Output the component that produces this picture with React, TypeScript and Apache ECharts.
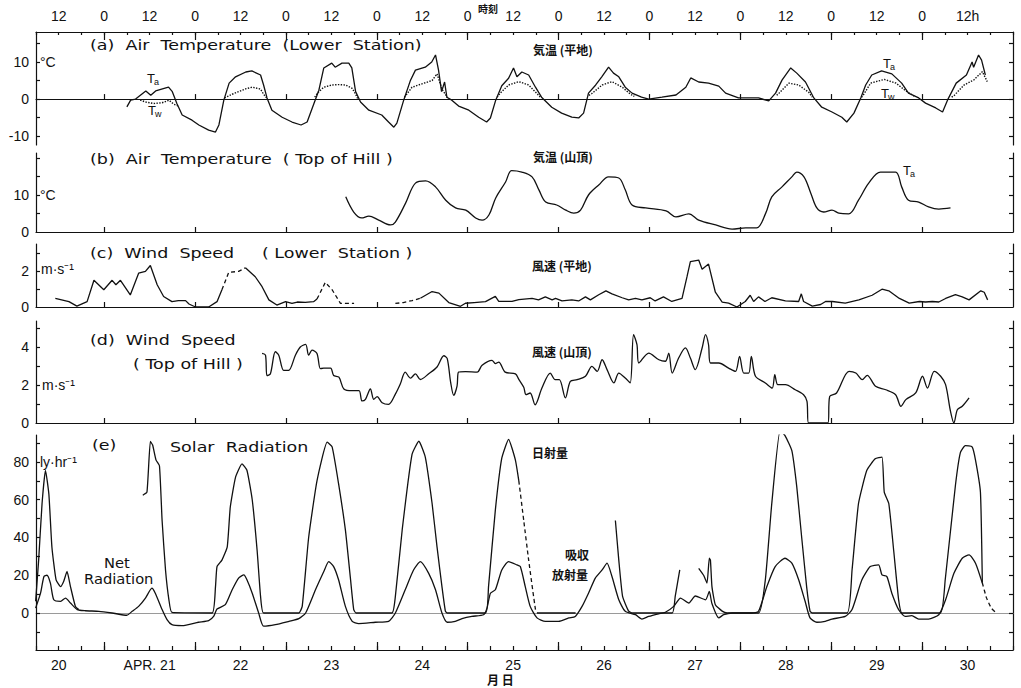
import React, { useEffect, useRef } from "react";
import * as echarts from "echarts";

type P = [number, number] | null;

// ---------- axis definitions (hours since Apr 20, 00h) ----------
const X_MIN = 6;
const X_MAX = 264;
const topLabelHours = [12, 24, 36, 48, 60, 72, 84, 96, 108, 120, 132, 144, 156, 168, 180, 192, 204, 216, 228, 240, 252];
const dateHours = [12, 36, 60, 84, 108, 132, 156, 180, 204, 228, 252];
const dateLabels = ["20", "APR. 21", "22", "23", "24", "25", "26", "27", "28", "29", "30"];
const midnightHours = [24, 48, 72, 96, 120, 144, 168, 192, 216, 240];
const sixHourTicks: number[] = [];
for (let h = 6; h <= 264; h += 6) sixHourTicks.push(h);

// ---------- (a) Air temperature, lower station (°C) ----------
const taLower: P[] = [
  [30, -2.1], [31, -0.3], [32.3, 0], [35, 2.2], [36.3, 1], [37.6, 2.2], [40.3, 3], [41, 3.2], [42, 2], [43.2, -1.2],
  [44.6, -4.3], [47.2, -5.7], [49, -7], [51.6, -8.4], [53.4, -8.9], [54.3, -7], [55.6, -0.3], [57, 4.3], [58.7, 6],
  [61.4, 7.3], [63, 7.6], [65.3, 6.5], [66.1, 3.8], [67, 0.3], [68.3, -3], [71, -4.9], [73.6, -6.2], [76, -7],
  [77.6, -6.2], [79.4, -1.2], [80.7, 2.4], [82, 8.4], [84.1, 9.7], [85, 8.6], [86.8, 9.7], [88.6, 9.7], [89.4, 8.4],
  [90.4, 2], [91.7, -0.8], [93.9, -3], [97.3, -4.3], [99.1, -6.2], [100.5, -7.6], [101.3, -6.5], [103.1, -0.3],
  [104.9, 5.1], [106.2, 7.8], [108.8, 8.6], [110.5, 10], [111.5, 11.9], [112.3, 7.8], [113.1, 2], [113.9, 4.6],
  [114.5, 0.5], [115.8, -0.3], [117.6, -1.9], [120.3, -3], [122.9, -4.9], [125, -6.2], [126, -5.1], [127.4, -0.3],
  [129, 3.6], [130.8, 5.6], [132.1, 8.4], [133, 6], [134.3, 7.3], [136.1, 6.5], [137.9, 3.2], [139.5, 0.5],
  [142.2, -2.2], [144.8, -3.8], [147.5, -4.9], [149.3, -5.1], [150.6, -3.8], [151.9, 1.6], [153.8, 3.8], [155.4, 6],
  [157.2, 8.6], [158.5, 7], [159.9, 6], [161.6, 3.2], [163.4, 1.6], [165.9, 0.5], [167.8, 0], [171.3, 0.5],
  [175, 1.1], [177.6, 3.2], [178.9, 5.7], [181, 4.6], [183.6, 4.3], [186.3, 3.5], [188.1, 1.6], [191.5, 0.3],
  [195, 0.3], [196.8, 0.3], [199.5, -0.5], [201.3, 1.6], [203, 5.1], [205.3, 8.4], [206.9, 7], [209.2, 4.6],
  [211.4, 0.3], [213.5, -2.2], [216.2, -3.5], [218.8, -4.9], [220.1, -6.2], [222, -3.8], [223.8, 0.3], [225.1, 3.8],
  [226.7, 6.5], [229.3, 7.6], [232, 6.8], [234.6, 4.3], [236.4, 1.6], [239.1, 0.3], [240.9, -1.1], [243.6, -2.4],
  [245.4, -3.5], [246.7, -0.3], [249, 4.3], [251.7, 6.5], [253.2, 10], [253.6, 8.6], [254.9, 11.9], [255.7, 10.5],
  [256.7, 6.5],
];
const twLower: P[] = [
  [33.5, -0.3], [35, -0.8], [37, -1.2], [39.3, -1], [41.1, -0.3], [42.4, -1.4], [43.5, -1.8], null,
  [55.8, 0.3], [57.8, 1.3], [59.5, 2], [61.5, 2.8], [63.1, 3.2], [65.3, 2.7], [66.1, 1.3], [67, 0.2], null,
  [79.6, 0.5], [80.5, 1.8], [82, 3.2], [84.2, 3.8], [86, 3.9], [87.7, 3.8], [89.5, 2.9], [90.4, 1.3], [91, 0], null,
  [103.3, 0.5], [105.3, 3.2], [107.9, 4.1], [110.6, 5], [111.9, 6.8], [113.2, 2.7], [114.1, 1.3], [114.6, 0.4], null,
  [127.8, 0.5], [128.5, 1.5], [130.8, 3.8], [133.5, 4.7], [136.1, 3.8], [137.9, 1.9], [139.2, 0.5], null,
  [152, 1], [152.8, 1.5], [155.5, 3.8], [158.1, 4.7], [160.8, 3.2], [163, 1.3], [164, 0.7], null,
  [201.6, 1], [202.2, 1.6], [204.8, 4.3], [207.4, 3.8], [210.1, 1.8], [211, 0.5], null,
  [224, 0.5], [224.6, 1.3], [226.4, 4.3], [230, 5.3], [233.1, 4.3], [235.7, 2.2], [237.9, 0.8], null,
  [247.8, 0.5], [248.4, 0.9], [251.1, 3.8], [253.7, 5.2], [255.9, 7.4], [257.2, 4.7],
];

// ---------- (b) Air temperature, top of hill (°C) ----------
const taHill: P[] = [
  [87.8, 9.5], [89.9, 5.4], [92, 3.8], [93.9, 4.3], [96.5, 3.2], [99.6, 1.9], [100.9, 2.7], [103.6, 7.8],
  [106.2, 13.2], [108.9, 13.8], [111.5, 12.2], [114.2, 8.6], [116.8, 6.5], [119.5, 5.9], [122.1, 3.8], [123.8, 3.2],
  [125.6, 4.6], [127.4, 9.2], [130, 13.5], [131.6, 16.6], [134.3, 16.2], [137, 14.9], [138.8, 11.4], [140.6, 8.1],
  [143.5, 7.3], [145.9, 5.9], [148, 5.1], [149.8, 5.9], [151.9, 10], [154.6, 12.7], [157.2, 14.9], [159.9, 14.6],
  [161.6, 11.4], [163.4, 7.3], [167, 6.5], [172.4, 5.7], [175, 4.1], [178.4, 4.9], [181, 3.2], [185.5, 1.9],
  [189.8, 0.8], [193.4, 1.1], [196.3, 1.1], [198.7, 5.1], [200.3, 9.5], [203, 12.2], [205.6, 14.9], [206.9, 16.2],
  [208.8, 14.9], [210.6, 10.5], [212.2, 6.5], [214, 5.4], [216.2, 5.9], [218, 5.1], [220.6, 4.9], [223.2, 8.6],
  [225.9, 13.2], [229, 16.2], [233, 16.2], [234.6, 12.2], [236.4, 8.6], [239.1, 8.1], [241.7, 6.8], [244.4, 6.2],
  [247.5, 6.5],
];

// ---------- (c) Wind speed, lower station (m/s) ----------
const windLower: P[] = [
  [11.1, 0.49], [14.7, 0.3], [16.8, 0.05], [19.5, 0.3], [21.3, 1.5], [23.9, 0.97], [26.1, 1.5], [27.1, 1.25],
  [28.3, 1.5], [30.9, 0.68], [33.1, 1.9], [34.9, 2.0], [36.2, 2.33], [38, 1.25], [39.7, 0.59], [41.9, 0.3],
  [43.6, 0.36], [45.5, 0.36], [46.4, 0.17], [48.1, 0], [51.6, 0], [53.8, 0.3], [55.1, 0.97], null,
  [61.3, 2.2], [63.9, 1.7], [65.7, 1.14], [67.5, 0.4], [69.6, 0.11], [71.9, 0.3], [73.6, 0.2], [75, 0.28],
  [77.1, 0.26], [79.3, 0.3], [80.2, 0.45], null,
  [107.5, 0.49], [110.6, 0.87], [112.4, 0.78], [115, 0.25], [118.1, 0.04], [119.4, 0.21], [121.7, 0.25],
  [124.7, 0.3], [127.3, 0.6], [128.2, 0.32], [131.7, 0.32], [133.5, 0.42], [137, 0.48], [138.7, 0.4], [140.5, 0.57],
  [142.3, 0.4], [143.2, 0.48], [144.9, 0.34], [147.5, 0.4], [149.3, 0.34], [151.1, 0.57], [152.4, 0.4],
  [154.6, 0.69], [156.5, 0.91], [158.1, 0.74], [160.8, 0.52], [162.5, 0.4], [164.3, 0.48], [166, 0.4],
  [168.2, 0.52], [169.5, 0.34], [171.7, 0.57], [173.9, 0.31], [176.6, 0.48], [177.9, 1.69], [178.8, 2.55],
  [181, 2.64], [181.9, 2.12], [183.6, 2.41], [185.4, 0.83], [187.2, 0.28], [188.9, 0.22], [191.1, 0],
  [193.3, 0.31], [194.6, 0.66], [195.5, 0.31], [196.8, 0.57], [198.5, 0.31], [200.3, 0.52], [203.9, 0.34],
  [207.4, 0.31], [208.1, 0.74], [208.7, 0.31], [211, 0.05], [213.2, 0.14], [214.5, 0.31], [216.3, 0.31],
  [219.7, 0.22], [223.3, 0.4], [226.8, 0.66], [229.4, 1.0], [231.2, 0.91], [234, 0.48], [236.6, 0.22],
  [239.3, 0.31], [240.9, 0.28], [242.7, 0.31], [244.4, 0.28], [246.2, 0.48], [248.8, 0.69], [250.6, 0.57],
  [252.4, 0.4], [255.5, 0.91], [256.4, 0.83], [257.3, 0.4],
];
const windLowerDashed: P[] = [
  [55.1, 0.97], [56.9, 1.95], [59.5, 2.0], [61.3, 2.2], null,
  [80.2, 0.45], [82.4, 1.38], [84.2, 0.97], [86.4, 0.2], [90, 0.2], null,
  [100.9, 0.2], [103, 0.25], [105.3, 0.36], [107.5, 0.49],
];

// ---------- (d) Wind speed, top of hill (m/s) ----------
const windHill: P[] = [
  [65.7, 3.66], [66.6, 3.57], [67, 2.5], [67.9, 2.59], [69.2, 3.75], [70.1, 3.57], [71.4, 2.77], [72.7, 2.77],
  [74.5, 3.57], [75.8, 4.0], [77.2, 4.14], [78, 3.57], [78.9, 3.84], [80.2, 3.66], [81.1, 2.86], [82, 2.89],
  [83.8, 2.89], [84.6, 2.5], [86, 2.41], [87.3, 1.79], [89.5, 1.7], [91.3, 1.7], [92.1, 1.16], [93, 1.25],
  [94.3, 1.79], [95.2, 1.25], [96.1, 1.39], [97.4, 1.07], [99.1, 0.98], [100.9, 1.52], [102.2, 2.05], [103.5, 2.68],
  [104.9, 2.36], [106.2, 2.59], [107.5, 2.29], [109.7, 2.59], [111.9, 2.95], [113.7, 3.54], [114.6, 3.39],
  [115.5, 2.14], [116.3, 1.46], [117.2, 1.96], [117.6, 2.68], [119.4, 2.71], [122.5, 2.68], [123.8, 3.04],
  [126.4, 3.3], [127.3, 3.13], [128.2, 3.21], [129.9, 2.68], [132.6, 2.59], [133.5, 2.3], [134.8, 1.88],
  [135.4, 1.49], [136.5, 1.58], [137.8, 0.96], [139.6, 1.84], [141.8, 2.63], [143.1, 2.28], [144.2, 2.28],
  [145.8, 1.32], [147.1, 2.19], [148.9, 2.28], [151.1, 2.46], [152.8, 2.98], [154.2, 2.72], [155.5, 3.33],
  [156.8, 2.81], [158.6, 2.11], [159.9, 2.63], [161.6, 2.37], [162.9, 2.11], [163.8, 4.65], [164.7, 4.12],
  [165.2, 3.16], [167.8, 3.68], [170.5, 3.33], [172.2, 3.25], [173.1, 3.68], [174, 2.63], [175.7, 3.42],
  [177.5, 3.95], [178.8, 3.42], [180.1, 2.81], [181.9, 3.95], [182.8, 4.65], [183.6, 4.12], [184.1, 3.16],
  [186.3, 3.16], [188.9, 2.89], [190.7, 2.72], [191.8, 3.51], [192.9, 2.63], [194.2, 2.63], [194.9, 3.51],
  [196, 2.46], [198.6, 2.11], [200.4, 1.84], [201.1, 2.54], [201.9, 2.02], [203.9, 2.02], [206.5, 1.75],
  [208.7, 1.49], [209.6, 1.14], [210, 0], [215.1, 0], [215.6, 1.4], [217.4, 1.58], [220.7, 2.72], [222.5, 2.63],
  [224.2, 2.28], [225.5, 2.51], [227.7, 1.93], [230.4, 1.75], [233, 1.49], [234.4, 0.88], [235.7, 1.23],
  [238.3, 1.58], [240.1, 2.46], [241.4, 1.84], [243.2, 2.72], [244.9, 2.46], [246.2, 2.02], [247.5, 0.61],
  [248.4, 0], [249.3, 0.7], [250.6, 0.88], [252.4, 1.32],
];

// ---------- (e) Solar and net radiation (ly/hr) ----------
const solarRad: P[] = [
  [5.9, 6.2], [6.7, 28], [7.6, 58], [8.5, 75.6], [9.4, 63], [10.2, 35], [11.3, 17.6], [12.5, 14], [13.3, 16.7],
  [14.2, 22], [15.1, 14], [16.4, 3.5], [17.3, 1.8], null,
  [34.2, 62.4], [35.3, 64], [36.2, 90.9], [36.8, 89], [37.7, 81], [38.6, 78], [39.3, 49], [40.2, 22.8], [41.1, 7],
  [41.9, 0.3], [52.5, 0], [53.4, 14], [53.8, 24.6], [55.1, 28], [56.5, 35], [57.3, 56], [58.7, 72], [60.4, 79],
  [61.7, 75.6], [63.1, 60], [64.4, 33], [65.3, 8.8], [66.1, 0], [75.4, 0], [76.3, 3.5], [78, 40], [80.2, 70],
  [82.9, 90.5], [84.2, 88], [85.9, 68.5], [87.7, 44], [89, 19], [89.9, 1.8], [90.5, 0], [100, 0], [100.9, 8.8],
  [102.7, 44], [105.3, 84], [107.1, 91], [108.8, 82.6], [110.6, 58], [111.9, 35], [113.2, 14], [114.1, 1],
  [114.6, 0], [124.7, 0], [125.5, 14], [127.3, 54.5], [129, 82], [130.8, 92], [132.6, 81], [133.5, 70], null,
  [138.3, 0], [148.5, 0], null,
  [159, 49], [159.9, 28], [160.9, 8.8], [162.5, 1], [163.5, 0], [174, 0], [174.8, 8.8], [176, 22.8], null,
  [181, 23.7], [182.3, 20], [183.2, 15.8], [183.8, 29], [184.1, 28], [184.5, 14], [185.4, 4.4], [187.2, 1],
  [188.5, 0], [196.8, 0], [198.6, 17.6], [200.3, 58], [202.5, 96.7], [203.8, 94], [205.6, 86], [206.9, 66.8],
  [208.2, 40], [209.5, 14], [210.4, 1], [211, 0], [220.2, 0], [221.5, 22.8], [223.2, 58], [225.4, 75.6],
  [227.6, 81.7], [229.4, 82.6], [230, 64], [231.2, 58], [232.5, 33], [233.8, 7], [234.7, 0], [244.8, 0],
  [246.1, 17.6], [248.8, 67.7], [250.1, 85], [251.4, 88.7], [253.2, 88], [254.1, 81], [255.4, 64], [255.9, 16],
];
const solarRadDashed: P[] = [
  [133.5, 70], [134.8, 49], [136.1, 28], [137.9, 1.8], [138.3, 0], null,
  [255.9, 16], [257, 8], [258.3, 2.5], [259.6, 0],
];
const netRad: P[] = [
  [5.9, 2.6], [7.2, 10.5], [8.1, 19.3], [8.9, 20], [9.8, 15.8], [10.7, 7], [12.5, 6.2], [13.8, 7.9], [15.1, 5.3],
  [16.9, 1.8], [19, 1.2], [22.6, 0.9], [26.1, 0], [30, -1.2], [31.4, 0.9], [33.1, 3.5], [34.9, 7.9], [36.6, 13.2],
  [37.5, 10.5], [39.3, 1.8], [40.6, -3.5], [41.9, -6.2], [44.6, -6.7], [48.9, -4.9], [51.6, -4], [52.9, -1.8],
  [53.8, 2.1], [56, 4.4], [57.8, 12.3], [59.5, 18.5], [60.9, 20.2], [61.7, 17.6], [63.1, 10.5], [64.8, 0],
  [66.1, -7], [69.2, -6.2], [72.8, -4.4], [75.4, -3], [77.2, 0], [79.8, 12.3], [82, 22], [83.3, 27.2],
  [84.6, 24.6], [85.9, 17.6], [87.7, 3.5], [89.5, -4.4], [91.2, -5.6], [95.6, -4.9], [99.1, -4.4], [100.9, 0],
  [103.5, 12.3], [105.7, 22.8], [107.5, 27.2], [109.7, 21], [111.5, 12.3], [113.2, 0], [114.6, -4.9],
  [116.7, -4.4], [118.5, -3], [121.1, -1.8], [124.2, -0.9], [125.1, 2.6], [126, 10.5], [127.3, 12.3],
  [129, 22.8], [130.8, 27.2], [133, 25.5], [133.9, 24.6], [135.2, 14], [136.5, 3.5], [138.3, -2.6],
  [140.5, -4.4], [144, -4.4], [146.7, -2.6], [148.4, -1.8], [150.2, 3.5], [151.9, 10.5], [153.7, 18.5],
  [155.5, 22.8], [156.8, 26.4], [158.1, 19.3], [159.9, 7], [161.6, 0.9], [164.3, -0.9], [166, -3.2],
  [167.8, -1.8], [170.4, -0.4], [172.2, 0.4], [174.4, 3.5], [176.2, 7.9], [178.4, 5.3], [180.1, 9], [182.8, 7],
  [183.8, 11.4], [184.5, 5], [186.3, -2.6], [187.6, -0.9], [189.8, 0], [195.1, 0], [196.8, 0.9], [199, 14],
  [201.2, 24.6], [203.8, 29], [205.6, 26.4], [207.4, 17.6], [209.1, 6.2], [210.4, -2.6], [212.2, -4.9],
  [214.4, -4.4], [216.2, -3.2], [219.7, -1.8], [221.5, 1.8], [224.1, 17.6], [226.3, 24.6], [228.5, 25.5],
  [229.4, 20.2], [230.7, 19.3], [232, 10.5], [233.8, 1.8], [235.5, -1.8], [237.3, -1.4], [239.1, -3.2],
  [241.7, -3.2], [244.4, -0.9], [246.2, 7], [248.4, 21], [250.6, 29], [252.4, 30.8], [254.1, 26.4], [255.9, 15.8],
];

// ---------- panel y-scales ----------
const yMins = [-12.4, 0, 0, 0, -19.6];
const yMaxs = [18.1, 21.35, 3.54, 5.37, 94.3];
const yTicks = [
  [-10, -5, 0, 5, 10, 15],
  [5, 10, 15, 20],
  [1, 2, 3],
  [1, 2, 3, 4, 5],
  [-10, 0, 10, 20, 30, 40, 50, 60, 70, 80, 90],
];
const yLabels = [
  [-10, 0, 10],
  [0, 10],
  [0, 2],
  [0, 2, 4],
  [0, 20, 40, 60, 80],
];

const FONT = "'DejaVu Sans', sans-serif";
const NUMFONT = "'Liberation Sans', Arial, sans-serif";
const CJK = "'Noto Sans CJK JP', sans-serif";
const BLACK = "#111";

function toData(arr: P[]) {
  return arr.map((p) => (p === null ? ["-", "-"] : p));
}

function txt(x: number, y: number, text: string, size = 14, font = FONT, weight = "normal", scaleX = 1) {
  return {
    type: "text",
    x,
    y,
    scaleX,
    silent: true,
    style: { text, fill: BLACK, font: `${weight} ${size}px ${font}`, align: "left", verticalAlign: "top" },
  };
}

// title text, stretched horizontally like the wide lettering of the original
function title(x: number, y: number, text: string, scaleX = 1.25) {
  return txt(x, y, text, 14, FONT, "normal", scaleX);
}

function sub(x: number, y: number, main: string, s: string) {
  return [txt(x, y, main, 13, NUMFONT), txt(x + 7, y + 5, s, 9, NUMFONT)];
}

export default function App() {
  const ref = useRef<HTMLDivElement>(null);

  useEffect(() => {
    if (!ref.current) return;
    const chart = echarts.init(ref.current, undefined, { renderer: "svg" });

    const grids = [
      { left: 36, right: 8, top: 32, height: 113 },
      { left: 36, right: 8, top: 153, height: 79 },
      { left: 36, right: 8, top: 244, height: 63 },
      { left: 36, right: 8, top: 321, height: 102 },
      { left: 36, right: 8, top: 435, height: 215 },
    ];

    const lineStyle = { color: BLACK, width: 1.2 };
    const hidden = { show: false };

    const xAxis: any[] = [
      {
        type: "value", gridIndex: 0, position: "top", min: X_MIN, max: X_MAX,
        axisLine: { show: true, onZero: false, lineStyle },
        axisTick: { show: true, inside: true, length: 3, customValues: sixHourTicks, lineStyle },
        axisLabel: {
          show: true, customValues: topLabelHours, margin: 9, color: BLACK, fontSize: 14, fontFamily: NUMFONT,
          formatter: (v: number) => (v === 252 ? "12h" : v % 24 === 0 ? "0" : "12"),
        },
        splitLine: hidden,
      },
      {
        type: "value", gridIndex: 0, position: "top", min: X_MIN, max: X_MAX,
        axisLine: { show: false, onZero: false },
        axisTick: { show: true, inside: true, length: 8, customValues: midnightHours, lineStyle },
        axisLabel: hidden, splitLine: hidden,
      },
      {
        type: "value", gridIndex: 0, position: "bottom", min: X_MIN, max: X_MAX,
        axisLine: { show: true, onZero: true, lineStyle },
        axisTick: { show: true, inside: true, length: 5, customValues: midnightHours, lineStyle },
        axisLabel: hidden, splitLine: hidden,
      },
    ];
    for (let g = 1; g <= 3; g++) {
      xAxis.push({
        type: "value", gridIndex: g, position: "bottom", min: X_MIN, max: X_MAX,
        axisLine: { show: true, onZero: false, lineStyle },
        axisTick: { show: true, inside: true, length: 5, customValues: midnightHours, lineStyle },
        axisLabel: hidden, splitLine: hidden,
      });
    }
    xAxis.push({
      type: "value", gridIndex: 4, position: "bottom", min: X_MIN, max: X_MAX,
      axisLine: { show: true, onZero: false, lineStyle },
      axisTick: { show: true, inside: true, length: 4, customValues: sixHourTicks, lineStyle },
      axisLabel: {
        show: true, customValues: dateHours, margin: 8, color: BLACK, fontSize: 14, fontFamily: NUMFONT,
        formatter: (v: number) => dateLabels[dateHours.indexOf(v)] ?? "",
      },
      splitLine: hidden,
    });
    xAxis.push({
      type: "value", gridIndex: 4, position: "bottom", min: X_MIN, max: X_MAX,
      axisLine: { show: false, onZero: false },
      axisTick: { show: true, inside: true, length: 8, customValues: midnightHours, lineStyle },
      axisLabel: hidden, splitLine: hidden,
    });
    xAxis.push({
      type: "value", gridIndex: 4, position: "bottom", min: X_MIN, max: X_MAX,
      axisLine: { show: true, onZero: true, lineStyle: { color: "#9a9a9a", width: 1 } },
      axisTick: hidden, axisLabel: hidden, splitLine: hidden,
    });

    const yAxis: any[] = [];
    for (let g = 0; g < 5; g++) {
      for (const pos of ["left", "right"]) {
        yAxis.push({
          type: "value", gridIndex: g, position: pos, min: yMins[g], max: yMaxs[g],
          axisLine: { show: true, onZero: false, lineStyle },
          axisTick: { show: true, inside: true, length: 4, customValues: yTicks[g], lineStyle },
          axisLabel: pos === "left"
            ? { show: true, customValues: yLabels[g], color: BLACK, fontSize: 14, fontFamily: NUMFONT, margin: 7 }
            : { show: false },
          splitLine: hidden,
        });
      }
    }

    const line = (name: string, data: P[], xi: number, yi: number, type: any = "solid", smooth = 0) => ({
      name, type: "line", xAxisIndex: xi, yAxisIndex: yi, data: toData(data),
      showSymbol: false, symbol: "none", smooth, connectNulls: false,
      lineStyle: { color: BLACK, width: type === "dotted" ? 1.4 : 1.3, type },
      z: 3,
    });

    const series = [
      line("Ta lower", taLower, 0, 0),
      line("Tw lower", twLower, 0, 0, "dotted"),
      line("Ta hill", taHill, 3, 2, "solid", 0.35),
      line("Wind lower", windLower, 4, 4),
      line("Wind lower (interp.)", windLowerDashed, 4, 4, [4, 3]),
      line("Wind hill", windHill, 5, 6, "solid", 0.3),
      line("Solar radiation", solarRad, 6, 8, "solid", 0.15),
      line("Solar radiation (interp.)", solarRadDashed, 6, 8, [4, 3], 0.15),
      line("Net radiation", netRad, 6, 8, "solid", 0.2),
    ];

    const graphic: any[] = [
      txt(478, 3, "時刻", 10, CJK, "bold"),
      title(90, 38, "(a)  Air  Temperature  (Lower  Station)"),
      txt(40, 55, "°C", 14, NUMFONT),
      ...sub(147, 72, "T", "a"),
      ...sub(148, 104, "T", "w"),
      txt(533, 43, "気温 (平地)", 12, CJK, "bold"),
      ...sub(883, 57, "T", "a"),
      ...sub(881, 87, "T", "w"),
      title(90, 152, "(b)  Air  Temperature  ( Top of Hill )"),
      txt(40, 188, "°C", 14, NUMFONT),
      txt(533, 150, "気温 (山頂)", 12, CJK, "bold"),
      ...sub(903, 164, "T", "a"),
      title(90, 246, "(c)  Wind  Speed     ( Lower  Station )"),
      txt(41, 262, "m·s⁻¹", 14, NUMFONT),
      txt(532, 259, "風速 (平地)", 12, CJK, "bold"),
      title(90, 333, "(d)  Wind  Speed"),
      title(133, 357, "( Top of Hill )"),
      txt(42, 378, "m·s⁻¹", 14, NUMFONT),
      txt(532, 345, "風速 (山頂)", 12, CJK, "bold"),
      title(92, 438, "(e)"),
      title(170, 440, "Solar  Radiation"),
      txt(40, 455, "ly·hr⁻¹", 14, NUMFONT),
      title(104, 556, "Net", 1.05),
      title(84, 572, "Radiation", 1.05),
      txt(532, 446, "日射量", 12, CJK, "bold"),
      txt(565, 548, "吸収", 12, CJK, "bold"),
      txt(552, 568, "放射量", 12, CJK, "bold"),
      txt(487, 673, "月 日", 12, CJK, "bold"),
    ];

    chart.setOption({
      animation: false,
      backgroundColor: "#fff",
      grid: grids,
      xAxis,
      yAxis,
      series,
      graphic,
    });

    return () => chart.dispose();
  }, []);

  return (
    <div
      ref={ref}
      style={{ position: "absolute", left: 0, top: 0, width: 1021, height: 688, background: "#fff" }}
    />
  );
}
